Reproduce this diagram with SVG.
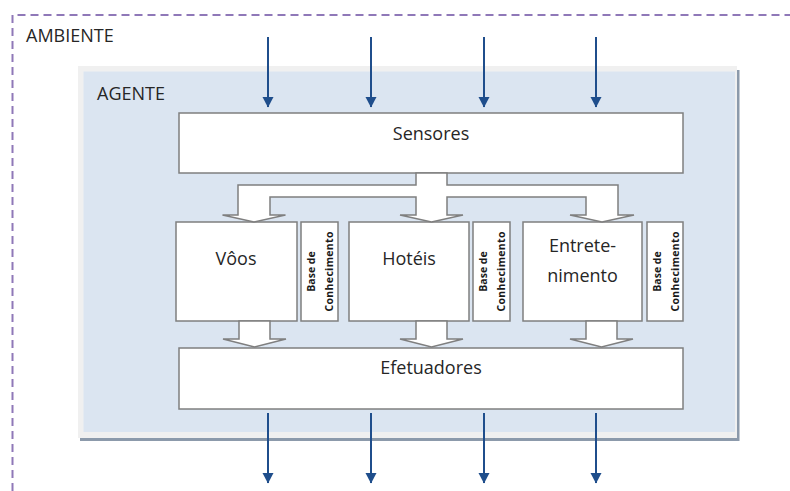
<svg xmlns="http://www.w3.org/2000/svg" width="790" height="491" viewBox="0 0 790 491">
<style>
.box{fill:#ffffff;stroke:#7f7f7f;stroke-width:1.5}
.blk{fill:#ffffff;stroke:#7f7f7f;stroke-width:1.5;stroke-linejoin:miter}
.lbl{font-family:"Open Sans","Liberation Sans",sans-serif;font-size:18px;fill:#262626;text-anchor:middle}
.ttl{font-family:"Open Sans","Liberation Sans",sans-serif;font-size:18px;fill:#262626}
.kb{font-family:"Open Sans","Liberation Sans",sans-serif;font-size:10.5px;font-weight:bold;fill:#1a1a1a;text-anchor:middle}
.io{stroke:#1f4e8c;stroke-width:2;fill:none;marker-end:url(#ah)}
</style>
<defs>
<marker id="ah" markerUnits="userSpaceOnUse" markerWidth="12" markerHeight="12" viewBox="0 0 12 12" refX="10" refY="6" orient="auto">
<path d="M0,0.5 L10.5,6 L0,11.5 Z" fill="#1f4e8c"/>
</marker>
</defs>
<g id="ambiente">
<path d="M12.5,491 V15 H790" fill="none" stroke="#8f78b8" stroke-width="2" stroke-dasharray="8,5"/>
<text class="ttl" x="26" y="42">AMBIENTE</text>
</g>
<g id="agente">
<rect x="78" y="66" width="659" height="372" fill="#f0f0f0"/>
<rect x="80" y="438" width="659" height="3" fill="#8c9aab"/>
<rect x="737" y="70" width="2.5" height="371" fill="#8c9aab"/>
<rect x="83.5" y="71.5" width="651.5" height="360.5" fill="#dbe5f1"/>
<text class="ttl" x="97" y="100">AGENTE</text>
</g>
<g id="sensores">
<rect class="box" x="179" y="113" width="504" height="60"/>
<text class="lbl" x="431" y="140">Sensores</text>
</g>
<g id="voos">
<rect class="box" x="176" y="222" width="121" height="99"/>
<text class="lbl" x="236" y="265">Vôos</text>
</g>
<g id="kb1">
<rect class="box" x="301" y="222" width="37" height="99"/>
<text class="kb" transform="translate(315,271.5) rotate(-90)">Base de</text>
<text class="kb" transform="translate(333,271.5) rotate(-90)" textLength="80" lengthAdjust="spacing">Conhecimento</text>
</g>
<g id="hoteis">
<rect class="box" x="349" y="222" width="120" height="99"/>
<text class="lbl" x="409" y="265">Hotéis</text>
</g>
<g id="kb2">
<rect class="box" x="473" y="222" width="37" height="99"/>
<text class="kb" transform="translate(487,271.5) rotate(-90)">Base de</text>
<text class="kb" transform="translate(505,271.5) rotate(-90)" textLength="80" lengthAdjust="spacing">Conhecimento</text>
</g>
<g id="entretenimento">
<rect class="box" x="523" y="222" width="119" height="99"/>
<text class="lbl" x="582.5" y="252">Entrete-</text>
<text class="lbl" x="582.5" y="282">nimento</text>
</g>
<g id="kb3">
<rect class="box" x="647" y="222" width="36" height="99"/>
<text class="kb" transform="translate(661,271.5) rotate(-90)">Base de</text>
<text class="kb" transform="translate(679,271.5) rotate(-90)" textLength="80" lengthAdjust="spacing">Conhecimento</text>
</g>
<g id="efetuadores">
<rect class="box" x="179" y="348" width="504" height="61"/>
<text class="lbl" x="431" y="374">Efetuadores</text>
</g>
<g id="connectors">
<path class="blk" d="M416,173 L416,185 L238,185 L238,215 L222.5,215 L254,222 L285.5,215 L270,215 L270,197 L416,197 L416,215 L400,215 L431.5,222 L463,215 L447,215 L447,197 L586,197 L586,215 L570,215 L602,222 L634,215 L618,215 L618,185 L447,185 L447,173 Z"/>
<path class="blk" d="M239,321 L239,339 L223,339 L254.5,347 L286,339 L270,339 L270,321 Z"/>
<path class="blk" d="M416,321 L416,339 L400,339 L431.5,347 L463,339 L447,339 L447,321 Z"/>
<path class="blk" d="M586,321 L586,339 L570,339 L601.5,347 L633,339 L617,339 L617,321 Z"/>
<line class="io" x1="268" y1="37" x2="268" y2="107"/>
<line class="io" x1="371" y1="37" x2="371" y2="107"/>
<line class="io" x1="484" y1="37" x2="484" y2="107"/>
<line class="io" x1="596" y1="37" x2="596" y2="107"/>
<line class="io" x1="268" y1="413" x2="268" y2="483"/>
<line class="io" x1="371" y1="413" x2="371" y2="483"/>
<line class="io" x1="484" y1="413" x2="484" y2="483"/>
<line class="io" x1="596" y1="413" x2="596" y2="483"/>
</g>
</svg>
